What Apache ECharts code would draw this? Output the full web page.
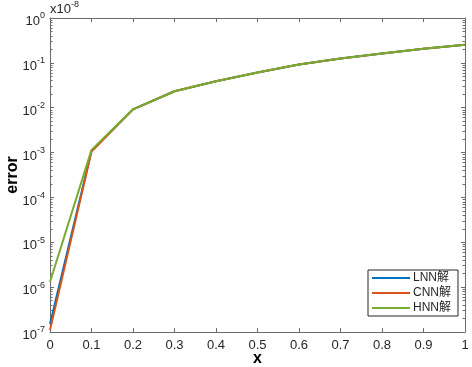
<!DOCTYPE html>
<html>
<head>
<meta charset="utf-8">
<script src="https://cdn.jsdelivr.net/npm/echarts@6/dist/echarts.min.js"></script>
<style>
  html, body { margin: 0; padding: 0; background: #fff; }
  #chart { width: 472px; height: 367px; }
</style>
</head>
<body>
<div id="chart"></div>
<script>
// values
const xVals = [0, 0.1, 0.2, 0.3, 0.4, 0.5, 0.6, 0.7, 0.8, 0.9, 1.0];
const lnnVals = [1.5e-7, 1.1e-3, 9.2e-3, 0.0233, 0.039, 0.061, 0.092, 0.125, 0.162, 0.206, 0.253];
const cnnVals = [1.1e-7, 1.05e-3, 9.2e-3, 0.0233, 0.039, 0.061, 0.092, 0.125, 0.162, 0.206, 0.253];
const hnnVals = [1.3e-6, 1.15e-3, 9.2e-3, 0.0233, 0.039, 0.061, 0.092, 0.125, 0.162, 0.206, 0.253];
const seriesNames = ['LNN解', 'CNN解', 'HNN解'];
const yDecades = [1e-7, 1e-6, 1e-5, 1e-4, 1e-3, 1e-2, 1e-1, 1];

// minor ticks 2..9 inside each decade
const yMinor = [];
for (let e = -7; e < 0; e++) {
    for (let m = 2; m <= 9; m++) yMinor.push(m * Math.pow(10, e));
}

const font = "'Liberation Sans', Arial, 'Noto Sans CJK SC', sans-serif";
const axisCol = '#6b6b6b';
const textCol = '#262626';
const colors = ['#0072BD', '#D95319', '#77AC30'];

const pair = (ys) => xVals.map((x, i) => [x, ys[i]]);

const chart = echarts.init(document.getElementById('chart'));

const xBase = {
    type: 'value',
    min: 0,
    max: 1,
    interval: 0.1,
    splitLine: { show: false },
    axisLine: { show: true, onZero: false, lineStyle: { color: axisCol, width: 1 } },
    axisTick: { show: true, inside: true, length: 4, lineStyle: { color: axisCol } }
};

const yBase = {
    type: 'log',
    logBase: 10,
    min: 1e-7,
    max: 1,
    splitLine: { show: false },
    axisLine: { show: false, onZero: false, lineStyle: { color: axisCol, width: 1 } },
    axisLabel: { show: false },
    axisTick: { show: true, inside: true, length: 4, lineStyle: { color: axisCol }, customValues: yDecades }
};

const option = {
    animation: false,
    textStyle: { fontFamily: font },
    title: {
        text: 'x10{s|-8}',
        left: 50,
        top: 0,
        padding: 0,
        textStyle: {
            fontFamily: font,
            fontSize: 13,
            fontWeight: 'normal',
            color: textCol,
            rich: {
                s: { fontFamily: font, fontSize: 9, color: textCol, padding: [0, 0, 9, 0] }
            }
        }
    },
    grid: { left: 50, right: 7, top: 18, bottom: 35, containLabel: false, outerBoundsMode: 'none' },
    legend: {
        orient: 'vertical',
        left: 368,
        top: 270,
        padding: [1, 7, 1, 4],
        itemGap: 1,
        itemWidth: 38,
        itemHeight: 2,
        icon: 'rect',
        borderColor: '#262626',
        borderWidth: 1,
        backgroundColor: '#fff',
        textStyle: { fontFamily: font, fontSize: 12, color: textCol, padding: [0, 0, 0, -2], lineHeight: 14 },
        data: seriesNames
    },
    xAxis: [
        Object.assign({}, xBase, {
            position: 'bottom',
            name: 'x',
            nameLocation: 'middle',
            nameGap: 19,
            nameMoveOverlap: false,
            nameTextStyle: { fontFamily: font, fontSize: 16, fontWeight: 'bold', color: '#000' },
            axisLabel: {
                show: true,
                margin: 7,
                fontFamily: font,
                fontSize: 13,
                color: textCol,
                formatter: (v) => String(Math.round(v * 10) / 10)
            }
        }),
        Object.assign({}, xBase, { position: 'top', axisLabel: { show: false } })
    ],
    yAxis: [
        Object.assign({}, yBase, {
            position: 'left',
            name: 'error',
            nameLocation: 'middle',
            nameGap: 29,
            nameMoveOverlap: false,
            nameTextStyle: { fontFamily: font, fontSize: 16, fontWeight: 'bold', color: '#000' },
            axisLine: { show: true, onZero: false, lineStyle: { color: axisCol, width: 1 } },
            axisLabel: {
                show: true,
                margin: 5,
                customValues: yDecades,
                fontFamily: font,
                fontSize: 13,
                color: textCol,
                formatter: (v) => '{b|10}{s|' + Math.round(Math.log10(v)) + '}',
                rich: {
                    b: { fontFamily: font, fontSize: 13, color: textCol, padding: [7, 0, 0, 0] },
                    s: { fontFamily: font, fontSize: 9, color: textCol, padding: [0, 0, 4, 0] }
                }
            }
        }),
        Object.assign({}, yBase, {
            position: 'left',
            axisTick: { show: true, inside: true, length: 2.5, lineStyle: { color: axisCol }, customValues: yMinor }
        }),
        Object.assign({}, yBase, {
            position: 'right',
            axisLine: { show: true, onZero: false, lineStyle: { color: axisCol, width: 1 } }
        }),
        Object.assign({}, yBase, {
            position: 'right',
            axisTick: { show: true, inside: true, length: 2.5, lineStyle: { color: axisCol }, customValues: yMinor }
        })
    ],
    series: [lnnVals, cnnVals, hnnVals].map((vals, i) => ({
        name: seriesNames[i],
        type: 'line',
        data: pair(vals),
        xAxisIndex: 0,
        yAxisIndex: 0,
        symbol: 'none',
        lineStyle: { width: 2, color: colors[i] },
        itemStyle: { color: colors[i] }
    }))
};

chart.setOption(option);
</script>
</body>
</html>
